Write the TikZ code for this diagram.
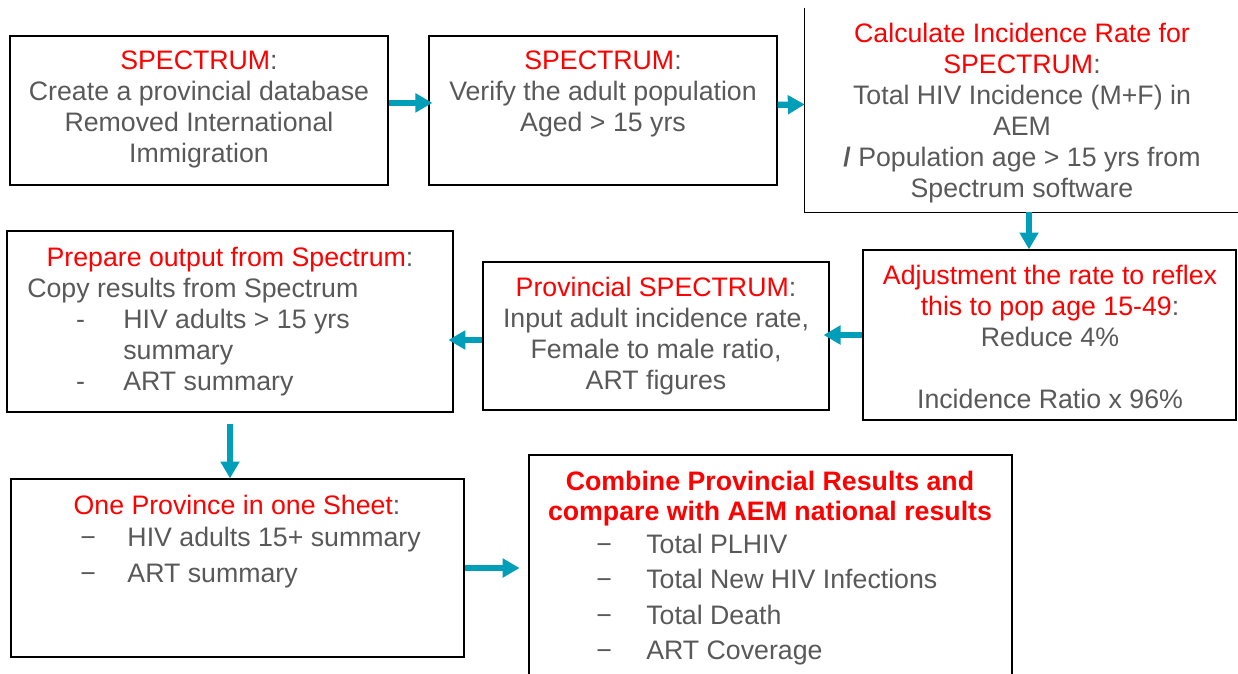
\documentclass[tikz,border=0pt]{standalone}
\usepackage{fontspec}
\setmainfont{Liberation Sans}
\usetikzlibrary{arrows.meta}
\usetikzlibrary{fit}
\definecolor{flowteal}{RGB}{0,158,184}
\definecolor{txtgray}{RGB}{89,89,89}
\newcommand{\hl}[1]{{\color{red}#1}}
\newcommand{\dashitem}[2][1.18cm]{\makebox[#1][l]{−}#2}

\begin{document}
\begin{tikzpicture}[x=0.025cm,y=-0.025cm,
        box/.style={draw,line width=0.9pt,inner sep=0pt},
        txt/.style={anchor=north,inner sep=0pt,align=center,text=txtgray,font=\fontsize{19}{22}\selectfont},
        lst/.style={txt,anchor=north west,align=left},
        flow/.style={flowteal,line width=4.5pt,-{Triangle[length=12pt,width=13pt]}}]
    \useasboundingbox (0,0) rectangle (1238,673);
    \clip (0,0) rectangle (1238,673);
    \foreach \n/\xa/\ya/\xb/\yb in {spec/10/36/388/185,verify/429/36/777/185,adjust/863/250/1236/420,
                                    prov/483/262/829/410,prep/7/231/453/412,one/11/479/464/657,comb/529/455/1012/700}{
        \node[box,fit={(\xa,\ya) (\xb,\yb)}] (\n) {};
    }
    \node[fit={(805,8) (1253,212)},inner sep=0pt] (calc) {};
    \draw[line width=0.9pt] (calc.north west) -- (calc.south west) -- (calc.south east);

    \node[txt] (spect) at (199,51) {\hl{SPECTRUM}:\\Create a provincial database\\Removed International\\Immigration};
    \node[txt] (verifyt) at (603,51) {\hl{SPECTRUM}:\\Verify the adult population\\Aged > 15 yrs};
    \node[txt] (calct) at (1022,23) {\hl{Calculate Incidence Rate for}\\\hl{SPECTRUM}:\\Total HIV Incidence (M+F) in\\AEM\\\textbf{/} Population age > 15 yrs from\\Spectrum software};
    \node[txt] (adjustt) at (1050,265) {\hl{Adjustment the rate to reflex}\\\hl{this to pop age 15-49}:\\Reduce 4\%\\[22pt]Incidence Ratio x 96\%};
    \node[txt] (provt) at (656,277) {\hl{Provincial SPECTRUM}:\\Input adult incidence rate,\\Female to male ratio,\\ART figures};
    \node[txt] (prept) at (230,247) {\hl{Prepare output from Spectrum}:};
    \node[lst] (prepl) at (27,278) {Copy results from Spectrum\\
        \hspace*{1.22cm}\makebox[1.18cm][l]{-}HIV adults > 15 yrs\\
        \hspace*{2.4cm}summary\\
        \hspace*{1.22cm}\makebox[1.18cm][l]{-}ART summary};
    \node[txt] (onet) at (237,495) {\hl{One Province in one Sheet}:};
    \node[lst,font=\fontsize{19}{25.5}\selectfont] (onel) at (80,527) {\dashitem{HIV adults 15+ summary}\\\dashitem{ART summary}};
    \node[txt,text=red,font=\fontsize{19}{21.3}\selectfont\bfseries] (combt) at (770,471) {Combine Provincial Results and\\compare with AEM national results};
    \node[lst,font=\fontsize{19}{25.1}\selectfont] (combl) at (596,534) {\dashitem[1.25cm]{Total PLHIV}\\\dashitem[1.25cm]{Total New HIV Infections}\\\dashitem[1.25cm]{Total Death}\\\dashitem[1.25cm]{ART Coverage}};

    \draw[flow,shorten >=-0.1cm] ([yshift=0.19cm]spec.east) -- ([yshift=0.19cm]verify.west);
    \draw[flow] ([yshift=0.14cm]verify.east) -- ([yshift=0.14cm]calc.west);
    \draw[flow] (calc.south) -- (calc.south |- adjust.north);
    \draw[flow,shorten >=-0.15cm] (adjust.west) -- (adjust.west -| prov.east);
    \draw[flow,shorten >=-0.13cm] ([yshift=-0.1cm]prov.west) -- ([yshift=-0.1cm]prov.west -| prep.east);
    \draw[flow,shorten <=0.28cm] (prep.south) -- (prep.south |- one.north);
    \draw[flow,shorten >=0.22cm] (one.east) -- (one.east -| comb.west);
\end{tikzpicture}
\end{document}
